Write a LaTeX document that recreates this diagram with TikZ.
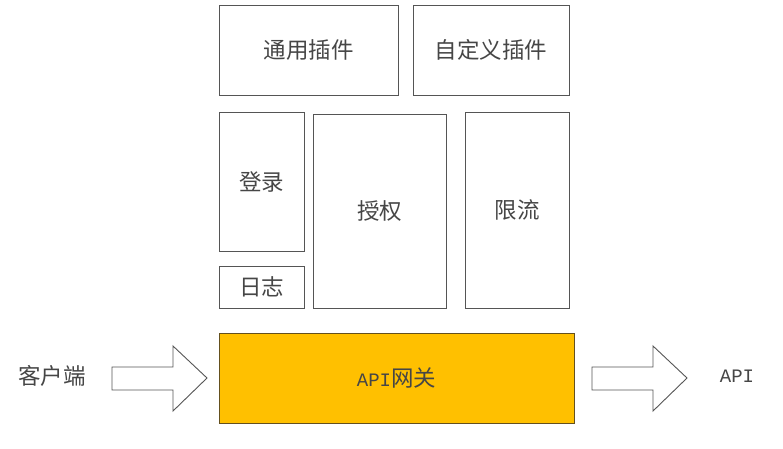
\documentclass[tikz,border=0pt]{standalone}
\usepackage{fontspec}
\setmainfont{Noto Sans CJK SC}
\newfontfamily\apifont{Liberation Mono}
\definecolor{gatefill}{RGB}{255,192,0}
\definecolor{gateline}{RGB}{100,80,30}
\definecolor{boxline}{RGB}{85,85,85}
\definecolor{txt}{RGB}{70,70,70}
\tikzset{
  >=latex,
}
\tikzstyle{box}=[draw=boxline,line width=1pt]
\tikzstyle{gate}=[draw=gateline,line width=1pt,fill=gatefill]
\tikzstyle{bigarrow}=[draw=boxline,line width=0.9pt,fill=white,line join=miter]
\tikzstyle{every node}=[font=\fontsize{22.5}{26}\selectfont,text=txt]
\newcommand{\apitext}{{\fontsize{19}{22}\selectfont\apifont API}}

\begin{document}
\begin{tikzpicture}[x=1pt,y=-1pt]
    \useasboundingbox (0,0) rectangle (783,448);
    % plugins
    \draw[box] (219,5) rectangle (398,95) node[midway] (common) {通用插件};
    \draw[box] (413,5) rectangle (569,95) node[midway] (custom) {自定义插件};
    % modules
    \draw[box] (219,112) rectangle (304,251) node[midway] (login) {登录};
    \draw[box] (219,266) rectangle (304,308) node[midway] (log) {日志};
    \draw[box] (313,114) rectangle (446,308) node[midway] (auth) {授权};
    \draw[box] (465,112) rectangle (569,308) node[midway] (limit) {限流};
    % gateway
    \draw[gate] (219,333) rectangle (574,423) node[midway] (gw) {\apitext 网关};
    \node (client) at (52,376) {客户端};
    \node (api) at (737,376) {\apitext};
    % block arrows
    \draw[bigarrow] (112,367) -- (173,367) -- (173,346) -- (207,378)
      -- (173,411) -- (173,390) -- (112,390) -- cycle;
    \draw[bigarrow] (592,367) -- (653,367) -- (653,346) -- (687,378)
      -- (653,411) -- (653,390) -- (592,390) -- cycle;
\end{tikzpicture}
\end{document}
